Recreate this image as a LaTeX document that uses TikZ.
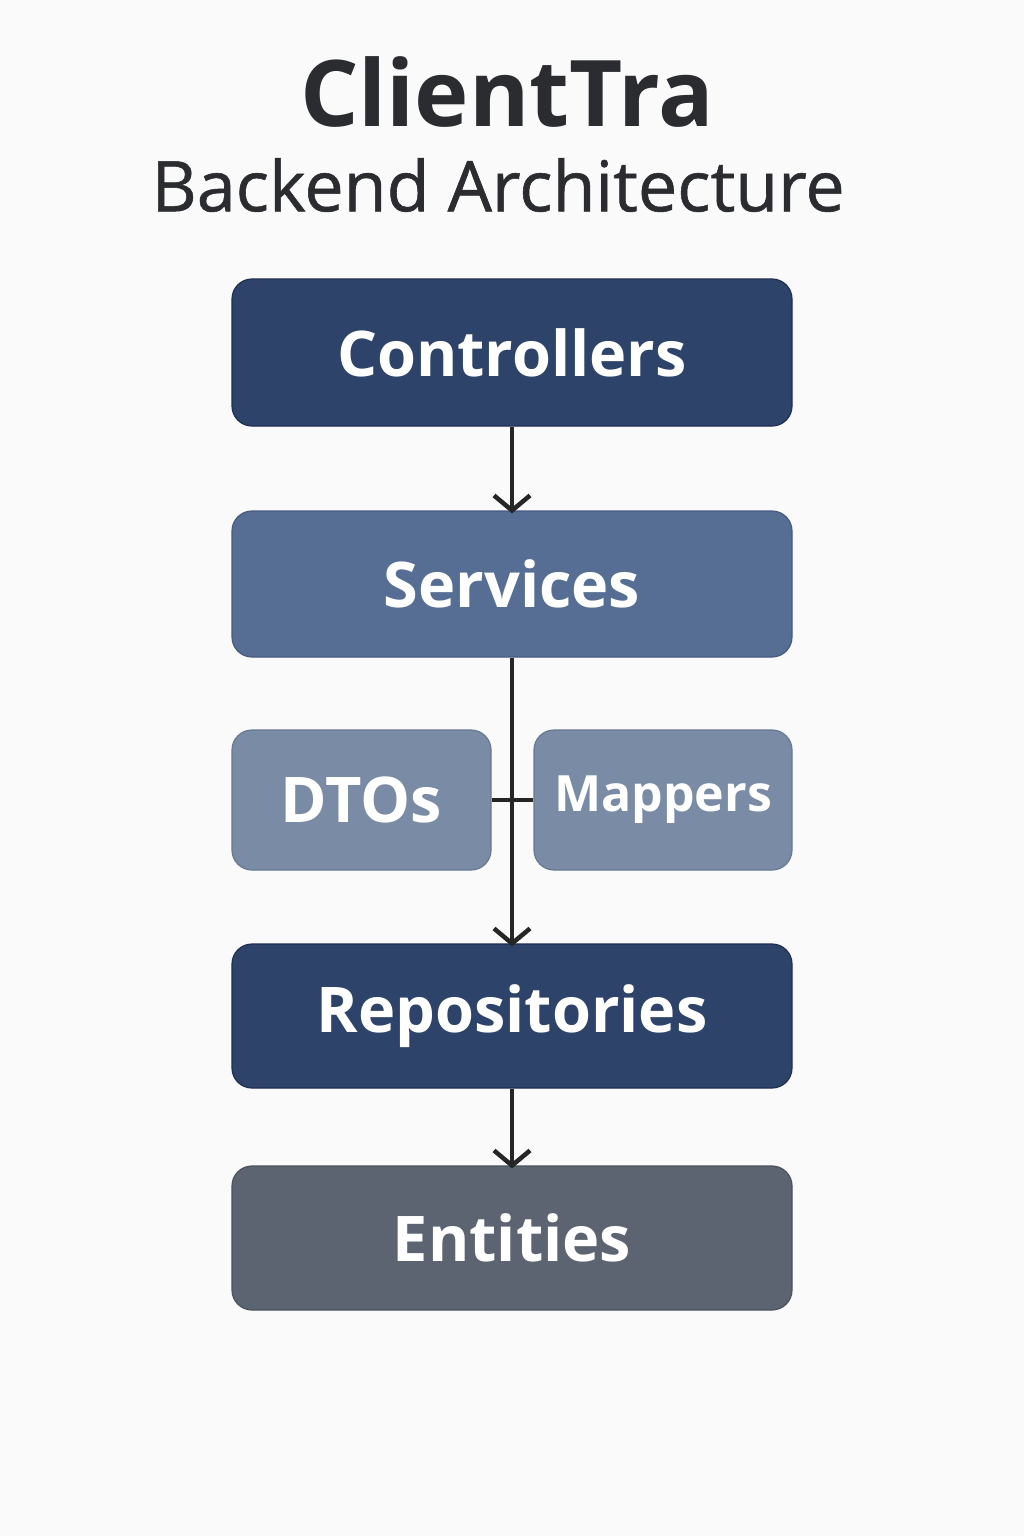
\documentclass[tikz,border=0pt]{standalone}
\usepackage{fontspec}
\setmainfont{Open Sans}
\newfontfamily\medfont[FakeBold=0.8]{Open Sans}
\usetikzlibrary{arrows.meta}
\definecolor{bg}{HTML}{FAFAFA}
\definecolor{darkblue}{HTML}{2D4369}
\definecolor{darkedge}{HTML}{1E2F52}
\definecolor{midblue}{HTML}{566E93}
\definecolor{midedge}{HTML}{455C80}
\definecolor{lightblue}{HTML}{7A8BA6}
\definecolor{lightedge}{HTML}{667892}
\definecolor{slate}{HTML}{5B6470}
\definecolor{slateedge}{HTML}{4A525D}
\definecolor{titlecol}{HTML}{2A2C30}
\definecolor{linecol}{HTML}{262626}
\tikzset{
  layerbox/.style={rounded corners=20pt, line width=1.2pt, text=white,
    font=\fontsize{63}{69}\selectfont\bfseries, inner sep=0pt},
  conn/.style={draw=linecol, line width=4.5pt},
  arr/.style={conn, -{Straight Barb[length=15pt,width=36pt]}},
}
\begin{document}
\begin{tikzpicture}[x=1pt,y=-1pt]
\fill[bg] (0,0) rectangle (1024,1536);
\useasboundingbox (0,0) rectangle (1024,1536);
\node[text=titlecol, font=\fontsize{92}{100}\selectfont\bfseries] (title) at (507,92) {ClientTra};
\node[text=titlecol, font=\fontsize{70}{76}\medfont] (subtitle) at (498,185) {Backend Architecture};

\node[layerbox, fill=darkblue, draw=darkedge, minimum width=560pt, minimum height=147pt] (ctrl) at (512,352.5) {Controllers};
\node[layerbox, fill=midblue, draw=midedge, minimum width=560pt, minimum height=146pt] (serv) at (512,584) {Services};
\node[layerbox, fill=lightblue, draw=lightedge, minimum width=259pt, minimum height=140pt] (dtos) at (361.5,800) {DTOs};
\node[layerbox, fill=lightblue, draw=lightedge, minimum width=258pt, minimum height=140pt, font=\fontsize{50}{56}\selectfont\bfseries] (mapp) at (663,800) {Mappers};
\node[layerbox, fill=darkblue, draw=darkedge, minimum width=560pt, minimum height=144pt] (repo) at (512,1016) {Repositories};
\node[layerbox, fill=slate, draw=slateedge, minimum width=560pt, minimum height=144pt] (ent) at (512,1238) {Entities};

\draw[arr] (ctrl.south) -- ([yshift=-3pt]serv.north);
\draw[arr] (serv.south) -- ([yshift=-3pt]repo.north);
\draw[conn] (dtos.east) -- (mapp.west);
\draw[arr] (repo.south) -- ([yshift=-3pt]ent.north);
\end{tikzpicture}
\end{document}
